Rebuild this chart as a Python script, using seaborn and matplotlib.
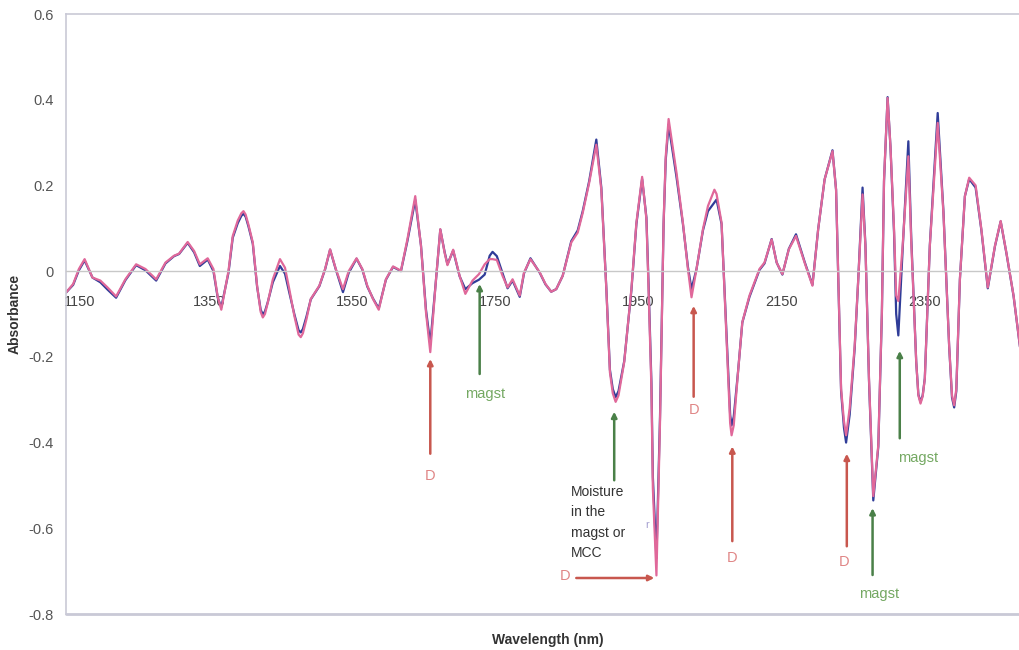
import matplotlib
matplotlib.use("Agg")
import matplotlib.pyplot as plt
import matplotlib.transforms as mtransforms
import seaborn as sns
import pandas as pd

# Second-derivative NIR spectra of two blends (wavelength in nm)
wavelength = [
    1150, 1160, 1168, 1176, 1187, 1198, 1208, 1220, 1233, 1248,
    1261, 1276, 1289, 1301, 1308, 1320, 1329, 1337, 1348, 1356,
    1362, 1367, 1377, 1383, 1390, 1395, 1398, 1401, 1405, 1411,
    1417, 1422, 1425, 1428, 1432, 1439, 1449, 1456, 1462, 1469,
    1475, 1478, 1481, 1486, 1492, 1504, 1512, 1519, 1527, 1537,
    1545, 1556, 1564, 1571, 1579, 1587, 1597, 1607, 1618, 1627,
    1638, 1646, 1653, 1659, 1667, 1673, 1679, 1683, 1691, 1700,
    1708, 1718, 1727, 1735, 1742, 1746, 1752, 1760, 1767, 1774,
    1784, 1790, 1799, 1812, 1820, 1828, 1835, 1844, 1856, 1865,
    1872, 1881, 1891, 1898, 1905, 1910, 1914, 1918, 1922, 1930,
    1940, 1947, 1955, 1961, 1964, 1968, 1970, 1975, 1980, 1985,
    1988, 1992, 2003, 2012, 2019, 2024, 2031, 2040, 2047, 2056,
    2059, 2066, 2073, 2076, 2078, 2080, 2083, 2089, 2095, 2105,
    2119, 2126, 2136, 2143, 2151, 2160, 2170, 2182, 2193, 2201,
    2210, 2221, 2226, 2233, 2237, 2240, 2245, 2252, 2257, 2263,
    2267, 2272, 2278, 2285, 2290, 2293, 2298, 2302, 2307, 2310,
    2313, 2319, 2327, 2331, 2338, 2341, 2344, 2347, 2350, 2357,
    2368, 2376, 2384, 2388, 2391, 2394, 2399, 2406, 2412, 2421,
    2429, 2438, 2448, 2456, 2464, 2474, 2484,
]

absorbance_pink = [
    -0.050, -0.030, 0.005, 0.028, -0.015, -0.022, -0.038, -0.059, -0.019, 0.016,
    0.005, -0.019, 0.020, 0.036, 0.041, 0.068, 0.047, 0.016, 0.030, 0.005,
    -0.060, -0.090, 0.000, 0.082, 0.118, 0.135, 0.140, 0.132, 0.108, 0.067,
    -0.034, -0.095, -0.108, -0.100, -0.073, -0.019, 0.028, 0.008, -0.042, -0.104,
    -0.148, -0.154, -0.145, -0.112, -0.065, -0.034, 0.005, 0.051, 0.005, -0.042,
    0.000, 0.030, 0.005, -0.034, -0.065, -0.090, -0.019, 0.011, 0.001, 0.074,
    0.175, 0.059, -0.096, -0.189, -0.019, 0.098, 0.043, 0.014, 0.050, -0.011,
    -0.053, -0.022, -0.007, 0.016, 0.028, 0.028, 0.026, -0.011, -0.038, -0.019,
    -0.057, -0.003, 0.028, -0.003, -0.030, -0.048, -0.042, -0.011, 0.067, 0.090,
    0.136, 0.206, 0.295, 0.190, -0.042, -0.236, -0.285, -0.305, -0.290, -0.212,
    -0.042, 0.113, 0.220, 0.121, -0.042, -0.274, -0.507, -0.710, -0.352, 0.113,
    0.268, 0.355, 0.230, 0.113, 0.005, -0.061, 0.005, 0.098, 0.152, 0.190,
    0.180, 0.113, -0.158, -0.274, -0.355, -0.383, -0.360, -0.236, -0.119, -0.057,
    0.005, 0.020, 0.074, 0.020, -0.007, 0.051, 0.082, 0.020, -0.034, 0.098,
    0.214, 0.280, 0.190, -0.274, -0.350, -0.383, -0.320, -0.174, -0.019, 0.179,
    0.059, -0.251, -0.525, -0.406, -0.096, 0.214, 0.404, 0.291, 0.098, -0.057,
    -0.070, 0.059, 0.268, 0.070, -0.212, -0.290, -0.309, -0.292, -0.251, 0.059,
    0.346, 0.136, -0.174, -0.290, -0.313, -0.275, -0.019, 0.175, 0.218, 0.200,
    0.098, -0.038, 0.059, 0.117, 0.043, -0.057, -0.190,
]

absorbance_blue = [
    -0.050, -0.032, 0.002, 0.025, -0.015, -0.026, -0.043, -0.062, -0.021, 0.014,
    0.002, -0.022, 0.018, 0.035, 0.040, 0.066, 0.044, 0.012, 0.027, 0.000,
    -0.062, -0.084, -0.004, 0.078, 0.112, 0.129, 0.134, 0.127, 0.104, 0.064,
    -0.036, -0.090, -0.101, -0.094, -0.072, -0.026, 0.012, -0.006, -0.050, -0.100,
    -0.138, -0.143, -0.135, -0.106, -0.066, -0.035, 0.004, 0.050, 0.004, -0.049,
    -0.004, 0.029, 0.004, -0.036, -0.064, -0.087, -0.020, 0.010, 0.000, 0.070,
    0.166, 0.060, -0.090, -0.170, -0.020, 0.097, 0.045, 0.016, 0.048, -0.012,
    -0.042, -0.028, -0.020, -0.008, 0.036, 0.045, 0.035, -0.005, -0.040, -0.022,
    -0.060, -0.005, 0.030, -0.004, -0.031, -0.048, -0.042, -0.011, 0.070, 0.095,
    0.140, 0.210, 0.307, 0.195, -0.040, -0.230, -0.275, -0.294, -0.280, -0.210,
    -0.045, 0.110, 0.215, 0.125, -0.030, -0.260, -0.480, -0.670, -0.340, 0.110,
    0.260, 0.342, 0.220, 0.110, 0.010, -0.042, 0.005, 0.095, 0.140, 0.160,
    0.167, 0.110, -0.150, -0.260, -0.335, -0.360, -0.340, -0.235, -0.120, -0.060,
    0.003, 0.018, 0.075, 0.020, -0.008, 0.052, 0.086, 0.022, -0.032, 0.098,
    0.214, 0.282, 0.190, -0.280, -0.365, -0.400, -0.335, -0.180, -0.019, 0.195,
    0.062, -0.255, -0.535, -0.410, -0.100, 0.210, 0.406, 0.290, 0.090, -0.100,
    -0.150, 0.050, 0.303, 0.080, -0.212, -0.288, -0.305, -0.290, -0.250, 0.060,
    0.369, 0.140, -0.175, -0.295, -0.318, -0.280, -0.020, 0.175, 0.215, 0.195,
    0.096, -0.040, 0.058, 0.116, 0.042, -0.058, -0.190,
]

x_ticks = [1150, 1350, 1550, 1750, 1950, 2150, 2350]
y_ticks = [-0.8, -0.6, -0.4, -0.2, 0, 0.2, 0.4, 0.6]
y_tick_labels = ["-0.8", "-0.6", "-0.4", "-0.2", "0", "0.2", "0.4", "0.6"]

# Band assignments: label, wavelength, arrow tail, arrow tip, label position
band_labels = ["D", "magst", "D", "D", "D", "magst", "magst"]
band_wavelengths = [1659, 1728, 2027, 2081, 2241, 2277, 2315]
band_tails = [-0.426, -0.240, -0.293, -0.630, -0.642, -0.709, -0.390]
band_tips = [-0.205, -0.030, -0.081, -0.409, -0.426, -0.553, -0.186]
band_text_x = [1659, 1735, 2027, 2081, 2237, 2286, 2340]
band_text_y = [-0.477, -0.286, -0.323, -0.670, -0.679, -0.753, -0.435]

moisture_text = "Moisture\nin the\nmagst or\nMCC"

sns.set_style("white")
plt.rcParams["font.family"] = ["Liberation Sans", "DejaVu Sans"]

RED_ARROW = "#c8574e"
RED_TEXT = "#e08585"
GREEN_ARROW = "#4a8048"
GREEN_TEXT = "#74a862"
FRAME = "#c9c9d6"

fig = plt.figure(figsize=(10.2, 6.5), dpi=100)
ax = fig.add_axes([66 / 1020, 36 / 650, (1020 - 66) / 1020, 600 / 650])

df = pd.DataFrame({
    "wavelength": wavelength * 2,
    "absorbance": absorbance_blue + absorbance_pink,
    "sample": ["blue"] * len(wavelength) + ["pink"] * len(wavelength),
})
sns.lineplot(data=df, x="wavelength", y="absorbance", hue="sample",
             palette={"blue": "#2f3c98", "pink": "#e0689a"},
             linewidth=1.6, legend=False, ax=ax, sort=False,
             solid_joinstyle="round", solid_capstyle="round")

ax.set_xlim(1150, 2483)
ax.set_ylim(-0.8, 0.6)

# Frame: top, left and bottom borders; x axis sits on zero
for side in ("top", "left"):
    ax.spines[side].set_color(FRAME)
    ax.spines[side].set_linewidth(1.2)
ax.spines["right"].set_visible(False)
ax.spines["bottom"].set_position(("data", 0))
ax.spines["bottom"].set_color("#c8c8c8")
ax.spines["bottom"].set_linewidth(1.0)
ax.axhline(-0.8, color=FRAME, lw=2.0, clip_on=False, zorder=0)

ax.set_xticks(x_ticks)
ax.set_xticklabels([str(t) for t in x_ticks])
ax.set_yticks(y_ticks)
ax.set_yticklabels(y_tick_labels)
ax.tick_params(axis="x", length=3, color="#c8c8c8", pad=14, labelsize=10.5,
               labelcolor="#444444")
ax.tick_params(axis="y", length=0, pad=9, labelsize=10.5, labelcolor="#555555")

# first category label sits just inside the left border
first_label = ax.get_xticklabels()[0]
first_label.set_transform(first_label.get_transform() +
                          mtransforms.ScaledTranslation(0.14, 0, fig.dpi_scale_trans))

ax.set_xlabel("Wavelength (nm)", fontsize=10, fontweight="bold", color="#333333")
ax.xaxis.set_label_coords(0.505, -0.032)
ax.set_ylabel("Absorbance", fontsize=10, fontweight="bold", color="#333333")
ax.yaxis.set_label_coords(-0.047, 0.5)

# Band assignment arrows
for lab, wl, tail, tip, tx, ty in zip(band_labels, band_wavelengths, band_tails,
                                      band_tips, band_text_x, band_text_y):
    arrow_col = RED_ARROW if lab == "D" else GREEN_ARROW
    text_col = RED_TEXT if lab == "D" else GREEN_TEXT
    ax.annotate("", xy=(wl, tip), xytext=(wl, tail),
                arrowprops=dict(arrowstyle="-|>", color=arrow_col, lw=1.8,
                                mutation_scale=8, shrinkA=0, shrinkB=0))
    ax.text(tx, ty, lab, color=text_col, fontsize=10.5, ha="center", va="center")

# Water band at ~1916 nm
ax.annotate("", xy=(1916, -0.328), xytext=(1916, -0.488),
            arrowprops=dict(arrowstyle="-|>", color=GREEN_ARROW, lw=1.8,
                            mutation_scale=8, shrinkA=0, shrinkB=0))
ax.text(1855, -0.500, moisture_text, color="#333333", fontsize=10,
        ha="left", va="top", linespacing=1.55)

# Horizontal arrow to the deep minimum near 1975 nm
ax.annotate("", xy=(1972, -0.716), xytext=(1863, -0.716),
            arrowprops=dict(arrowstyle="-|>", color=RED_ARROW, lw=1.8,
                            mutation_scale=8, shrinkA=0, shrinkB=0))
ax.text(1848, -0.712, "D", color=RED_TEXT, fontsize=10.5, ha="center", va="center")
ax.text(1962, -0.593, "r", color="#a6a0d0", fontsize=8, ha="center", va="center")

fig.savefig("out.png", dpi=100, facecolor="white")
